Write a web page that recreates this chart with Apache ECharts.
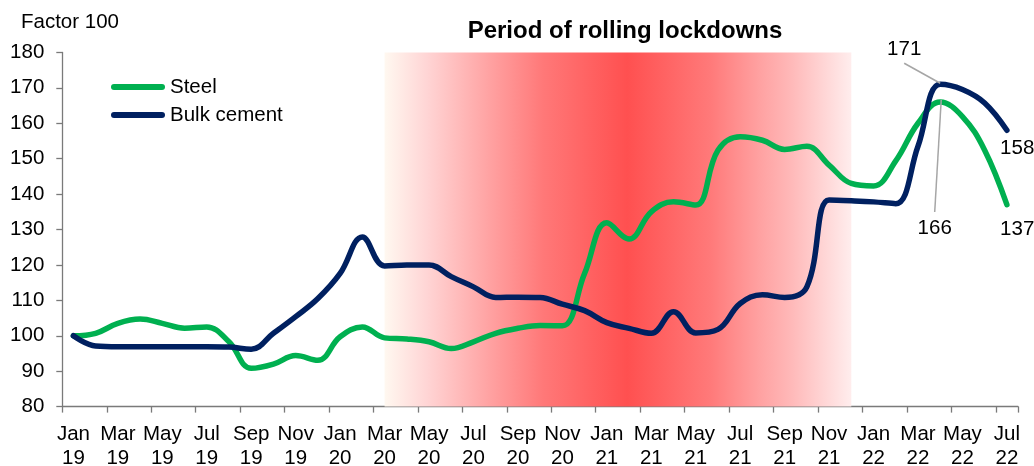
<!DOCTYPE html>
<html>
<head>
<meta charset="utf-8">
<script src="https://cdn.jsdelivr.net/npm/echarts@6/dist/echarts.min.js"></script>
<style>
  html, body { margin: 0; padding: 0; background: #ffffff; }
  #chart { width: 1034px; height: 466px; }
</style>
</head>
<body>
<div id="chart"></div>
<script>
// Monthly categories, Jan 2019 to Jul 2022 (label shown every second month)
const categories = [
  'Jan\n19','Feb\n19','Mar\n19','Apr\n19','May\n19','Jun\n19','Jul\n19','Aug\n19','Sep\n19','Oct\n19','Nov\n19','Dec\n19',
  'Jan\n20','Feb\n20','Mar\n20','Apr\n20','May\n20','Jun\n20','Jul\n20','Aug\n20','Sep\n20','Oct\n20','Nov\n20','Dec\n20',
  'Jan\n21','Feb\n21','Mar\n21','Apr\n21','May\n21','Jun\n21','Jul\n21','Aug\n21','Sep\n21','Oct\n21','Nov\n21','Dec\n21',
  'Jan\n22','Feb\n22','Mar\n22','Apr\n22','May\n22','Jun\n22','Jul\n22'
];

// Price indices (Jan 2019 = 100)
const steel = [
  100, 100.7, 103.5, 104.7, 103.5, 102.1, 102.5, 98.3, 90.8, 92.0, 94.4, 93.1,
  99.7, 102.5, 99.4, 99.1, 98.3, 96.4, 98.3, 100.7, 102.1, 102.9, 102.8, 117.6,
  131.9, 127.3, 135.0, 137.8, 136.9, 152.4, 156.2, 155.2, 152.6, 153.5, 148.2, 143.0,
  142.3, 149.4, 160.0, 166, 161.9, 152.4, 137
];
const bulkCement = [
  100, 97.1, 96.9, 96.9, 96.9, 96.9, 96.9, 96.8, 96.2, 100.7, 105.4, 110.5,
  117.6, 127.9, 119.7, 120.0, 120.0, 116.7, 113.8, 110.8, 110.9, 110.8, 108.9, 107.1,
  103.7, 102.1, 100.7, 106.8, 100.8, 101.8, 109.1, 111.6, 110.8, 113.8, 138.3, 138.1,
  137.8, 137.3, 153.5, 171, 169.5, 165.7, 158
];

// Lockdown period spans these two months
const lockdownStart = 14; // Mar 20
const lockdownEnd = 35;   // Dec 21

// Annotated points
const peakIdx = 39;
const lastIdx = categories.length - 1;

const FONT = "'Liberation Sans', Arial, sans-serif";
const GREEN = '#00B050';
const NAVY = '#002060';
const AXIS = '#7a7a7a';

const chart = echarts.init(document.getElementById('chart'), null, { renderer: 'canvas' });

function pointLabel(seriesVals, idx, offset) {
  return {
    coord: [idx, seriesVals[idx]],
    value: seriesVals[idx],
    label: {
      show: true,
      position: 'inside',
      formatter: '{c}',
      offset: offset,
      color: '#000',
      fontSize: 20.5,
      fontFamily: FONT
    }
  };
}

const hiddenPin = {
  silent: true,
  symbol: 'circle',
  symbolSize: 1,
  itemStyle: { color: 'rgba(0,0,0,0)' },
  animation: false
};

const option = {
  animation: false,
  backgroundColor: '#ffffff',
  title: [
    {
      text: 'Factor 100',
      left: 21,
      top: 12,
      padding: 0,
      textStyle: { fontFamily: FONT, fontSize: 20.5, fontWeight: 'normal', color: '#000' }
    },
    {
      text: 'Period of rolling lockdowns',
      left: 625,
      textAlign: 'center',
      top: 19,
      padding: 0,
      textStyle: { fontFamily: FONT, fontSize: 24, fontWeight: 'bold', color: '#000' }
    }
  ],
  legend: {
    orient: 'vertical',
    left: 111,
    top: 76.5,
    padding: 0,
    itemGap: 7,
    itemWidth: 54,
    itemHeight: 6,
    icon: 'path://M3,0 L51,0 A3,3 0 0 1 51,6 L3,6 A3,3 0 0 1 3,0 Z',
    textStyle: { fontFamily: FONT, fontSize: 20.5, color: '#000', lineHeight: 20 },
    data: ['Steel', 'Bulk cement']
  },
  grid: {
    left: 62.3, right: 16, top: 52.4, bottom: 59.4,
    containLabel: false,
    outerBoundsMode: 'none'
  },
  xAxis: {
    type: 'category',
    data: categories,
    boundaryGap: true,
    axisLine: { lineStyle: { color: AXIS, width: 1.3 } },
    axisTick: { show: true, length: 6, lineStyle: { color: AXIS, width: 1.3 } },
    axisLabel: {
      interval: 1,
      margin: 16,
      fontFamily: FONT,
      fontSize: 20.5,
      lineHeight: 23.5,
      color: '#000',
      align: 'center'
    },
    splitLine: { show: false }
  },
  yAxis: {
    type: 'value',
    min: 80,
    max: 180,
    interval: 10,
    axisLine: { show: true, lineStyle: { color: AXIS, width: 1.3 } },
    axisTick: { show: true, length: 6, lineStyle: { color: AXIS, width: 1.3 } },
    axisLabel: { margin: 18, fontFamily: FONT, fontSize: 20.5, color: '#000' },
    splitLine: { show: false }
  },
  series: [
    {
      name: 'Steel',
      type: 'line',
      data: steel,
      smooth: 0.4,
      showSymbol: false,
      symbol: 'none',
      color: GREEN,
      lineStyle: { color: GREEN, width: 5.5, cap: 'round', join: 'round' },
      emphasis: { disabled: true },
      z: 3,
      markArea: {
        silent: true,
        z: 1,
        itemStyle: {
          color: new echarts.graphic.LinearGradient(0, 0, 1, 0, [
            { offset: 0.00, color: '#FFF8F0' },
            { offset: 0.09, color: '#FFD5D5' },
            { offset: 0.23, color: '#FFA0A0' },
            { offset: 0.34, color: '#FF7878' },
            { offset: 0.52, color: '#FF5050' },
            { offset: 0.70, color: '#FF7A7A' },
            { offset: 0.80, color: '#FFA0A0' },
            { offset: 0.875, color: '#FFBABA' },
            { offset: 1.00, color: '#FFEDED' }
          ])
        },
        data: [[{ xAxis: categories[lockdownStart] }, { xAxis: categories[lockdownEnd] }]]
      },
      markPoint: Object.assign({}, hiddenPin, {
        data: [
          pointLabel(steel, peakIdx, [-5.5, 126]),
          pointLabel(steel, lastIdx, [10.3, 25])
        ]
      })
    },
    {
      name: 'Bulk cement',
      type: 'line',
      data: bulkCement,
      smooth: 0.4,
      showSymbol: false,
      symbol: 'none',
      color: NAVY,
      lineStyle: { color: NAVY, width: 5.5, cap: 'round', join: 'round' },
      emphasis: { disabled: true },
      z: 4,
      markPoint: Object.assign({}, hiddenPin, {
        data: [
          pointLabel(bulkCement, peakIdx, [-36, -35]),
          pointLabel(bulkCement, lastIdx, [10.3, 17.8])
        ]
      })
    }
  ]
};

chart.setOption(option);

// Leader lines from the peak labels to their points
const pCement = chart.convertToPixel({ seriesIndex: 1 }, [peakIdx, bulkCement[peakIdx]]);
const pSteel = chart.convertToPixel({ seriesIndex: 0 }, [peakIdx, steel[peakIdx]]);
const leader = { stroke: '#A6A6A6', lineWidth: 1.5 };
chart.setOption({
  graphic: [
    {
      type: 'line', z: 10, silent: true,
      shape: { x1: pCement[0] - 36, y1: pCement[1] - 21, x2: pCement[0], y2: pCement[1] - 1 },
      style: leader
    },
    {
      type: 'line', z: 10, silent: true,
      shape: { x1: pSteel[0] - 5.5, y1: pSteel[1] + 110, x2: pSteel[0] + 1, y2: pSteel[1] - 2 },
      style: leader
    }
  ]
});
</script>
</body>
</html>
